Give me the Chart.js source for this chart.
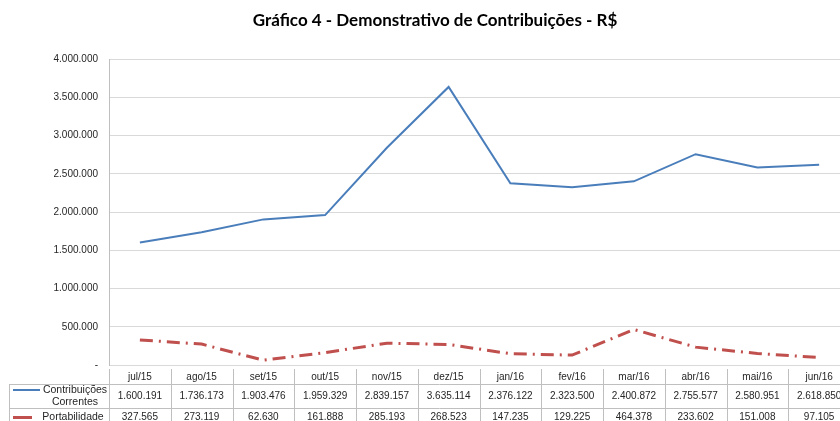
<!DOCTYPE html>
<html>
<head>
<meta charset="utf-8">
<script src="https://cdn.jsdelivr.net/npm/chart.js@4.4.0/dist/chart.umd.min.js"></script>
<style>
  html, body { margin: 0; padding: 0; background: #fff; overflow: hidden; }
  #box { width: 870px; height: 421px; }
</style>
</head>
<body>
<div id="box"><canvas id="grafico"></canvas></div>
<script>
// dados do gráfico
const meses = ['jul/15', 'ago/15', 'set/15', 'out/15', 'nov/15', 'dez/15', 'jan/16', 'fev/16', 'mar/16', 'abr/16', 'mai/16', 'jun/16'];
const contribuicoes = [1600191, 1736173, 1903476, 1959329, 2839157, 3635114, 2376122, 2323500, 2400872, 2755577, 2580951, 2618850];
const portabilidade = [327565, 273119, 62630, 161888, 285193, 268523, 147235, 129225, 464378, 233602, 151008, 97105];
const nomesSeries = [['Contribuições', 'Correntes'], ['Portabilidade']];

const corAzul = '#4a7ebb';
const corVermelha = '#c0504d';
const corGrade = '#d9d9d9';
const corBorda = '#bfbfbf';
const fonteTabela = '10px "Liberation Sans", Arial, sans-serif';
const fonteLegenda = '10.5px "Liberation Sans", Arial, sans-serif';

// formata 1600191 -> 1.600.191
function formata(v) {
  return String(Math.round(v)).replace(/\B(?=(\d{3})+(?!\d))/g, '.');
}

// tabela de dados embaixo do gráfico (como no Excel)
const tabelaDados = {
  id: 'tabelaDados',
  afterDraw(chart) {
    const ctx = chart.ctx;
    const x = chart.scales.x;
    const area = chart.chartArea;
    const passo = x.getPixelForValue(1) - x.getPixelForValue(0);
    const yCab = area.bottom + 4;
    const yLinha1 = area.bottom + 19;
    const yLinha2 = area.bottom + 43;
    const yFim = chart.height;
    const esq = 9;

    ctx.save();
    ctx.strokeStyle = corBorda;
    ctx.lineWidth = 1;
    ctx.beginPath();
    // linhas verticais das colunas
    for (let i = 0; i <= meses.length; i++) {
      const xx = Math.round(x.getPixelForValue(i) - passo / 2) + 0.5;
      ctx.moveTo(xx, yCab);
      ctx.lineTo(xx, yFim);
    }
    ctx.moveTo(esq + 0.5, yLinha1);
    ctx.lineTo(esq + 0.5, yFim);
    // linhas horizontais
    ctx.moveTo(esq, yLinha1 + 0.5);
    ctx.lineTo(chart.width, yLinha1 + 0.5);
    ctx.moveTo(esq, yLinha2 + 0.5);
    ctx.lineTo(chart.width, yLinha2 + 0.5);
    ctx.stroke();

    ctx.fillStyle = '#262626';
    ctx.font = fonteTabela;
    ctx.textAlign = 'center';
    ctx.textBaseline = 'middle';
    meses.forEach((m, i) => {
      const cx = x.getPixelForValue(i);
      ctx.fillText(m, cx, (yCab + yLinha1) / 2 + 1);
      ctx.fillText(formata(contribuicoes[i]), cx, (yLinha1 + yLinha2) / 2);
      ctx.fillText(formata(portabilidade[i]), cx, (yLinha2 + yFim) / 2 + 3);
    });

    // legenda na primeira coluna
    const txtX = 75;
    ctx.font = fonteLegenda;
    ctx.fillText(nomesSeries[0][0], txtX, yLinha1 + 6);
    ctx.fillText(nomesSeries[0][1], txtX, yLinha1 + 18);
    ctx.fillText(nomesSeries[1][0], txtX - 2, (yLinha2 + yFim) / 2 + 3);

    ctx.strokeStyle = corAzul;
    ctx.lineWidth = 2;
    ctx.beginPath();
    ctx.moveTo(13, yLinha1 + 6);
    ctx.lineTo(40, yLinha1 + 6);
    ctx.stroke();
    ctx.strokeStyle = corVermelha;
    ctx.lineWidth = 3;
    ctx.beginPath();
    ctx.moveTo(13, (yLinha2 + yFim) / 2 + 3);
    ctx.lineTo(32, (yLinha2 + yFim) / 2 + 3);
    ctx.stroke();
    ctx.restore();
  }
};

const ctx = document.getElementById('grafico');
new Chart(ctx, {
  type: 'line',
  data: {
    labels: meses,
    datasets: [
      {
        label: 'Contribuições Correntes',
        data: contribuicoes,
        borderColor: corAzul,
        borderWidth: 2,
        pointRadius: 0,
        tension: 0
      },
      {
        label: 'Portabilidade',
        data: portabilidade,
        borderColor: corVermelha,
        borderWidth: 3,
        borderDash: [13, 6, 2, 6],
        pointRadius: 0,
        tension: 0
      }
    ]
  },
  options: {
    responsive: true,
    maintainAspectRatio: false,
    animation: false,
    layout: { padding: { left: 20, right: 20, top: 0, bottom: 56 } },
    plugins: {
      legend: { display: false },
      tooltip: { enabled: false },
      title: {
        display: true,
        text: 'Gráfico 4 - Demonstrativo de Contribuições - R$',
        color: '#000',
        font: { family: 'Lato', size: 17, weight: 'bold' },
        padding: { top: 10, bottom: 28.6 }
      }
    },
    scales: {
      x: {
        display: false,
        offset: true
      },
      y: {
        min: 0,
        max: 4000000,
        afterFit(scale) { scale.width = 89; },
        ticks: {
          stepSize: 500000,
          padding: 11,
          color: '#262626',
          font: { family: 'Liberation Sans', size: 10 },
          callback: v => v === 0 ? '-' : formata(v)
        },
        grid: { color: corGrade, drawTicks: false },
        border: { display: true, color: corBorda }
      }
    }
  },
  plugins: [tabelaDados]
});
</script>
</body>
</html>
